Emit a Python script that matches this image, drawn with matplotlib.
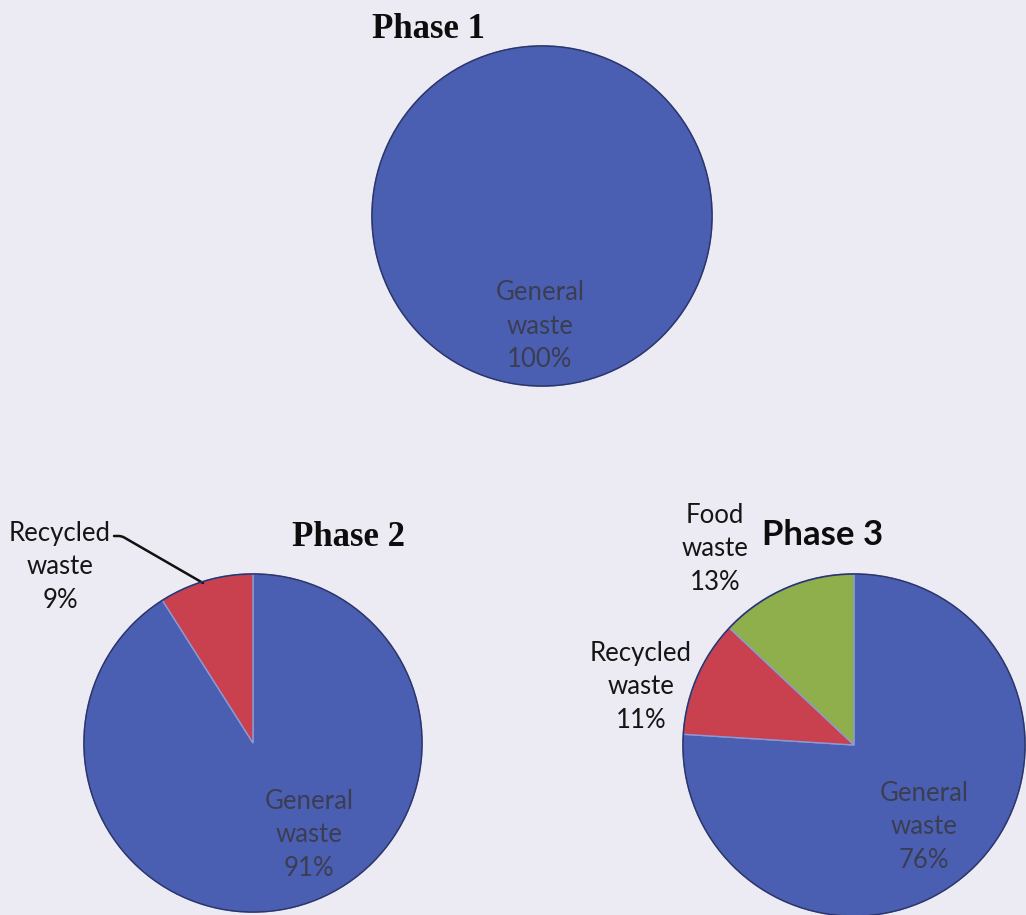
import matplotlib
matplotlib.use("Agg")
import matplotlib.pyplot as plt
from matplotlib.patches import Circle

# ---- data ----
phase_titles = ["Phase 1", "Phase 2", "Phase 3"]
categories = ["General waste", "Recycled waste", "Food waste"]
phase1_values = [100, 0, 0]
phase2_values = [91, 9, 0]
phase3_values = [76, 11, 13]

colors = ["#4b5fb2", "#c9404e", "#8fae4c"]
BG = "#eceaf2"

W, H = 1026, 915
fig = plt.figure(figsize=(W / 100, H / 100), dpi=100, facecolor=BG)
ax = fig.add_axes([0, 0, 1, 1])
ax.set_facecolor(BG)

def Y(y):  # convert top-based pixel to axis y
    return H - y

pies = [
    dict(values=phase1_values, center=(542, Y(216)), r=170),
    dict(values=phase2_values, center=(253, Y(743)), r=169),
    dict(values=phase3_values, center=(854, Y(745)), r=171),
]

for p in pies:
    vals = p["values"]
    cols = [c for c, v in zip(colors, vals) if v > 0]
    vals_nz = [v for v in vals if v > 0]
    ax.pie(vals_nz, colors=cols, startangle=90, counterclock=False,
           center=p["center"], radius=p["r"], frame=True,
           wedgeprops=dict(edgecolor="#8b9ad6", linewidth=1.0))
    ax.add_patch(Circle(p["center"], p["r"], fill=False,
                        edgecolor="#2b356e", linewidth=1.2, zorder=5))

ax.set_xlim(0, W)
ax.set_ylim(0, H)
ax.set_aspect("equal")
ax.axis("off")

serif = ["Liberation Serif", "DejaVu Serif"]
sans = ["Lato", "DejaVu Sans"]
inner_col = "#3b3d52"
outer_col = "#151515"
lfs = 18.5
ls = 1.42

def lab(name, v):
    n1, n2 = name.split(" ")
    return f"{n1}\n{n2}\n{v}%"

# titles
ax.text(428, Y(29), phase_titles[0], family=serif, weight="bold", fontsize=25,
        ha="center", va="center", color="#0d0d0d")
ax.text(349, Y(538), phase_titles[1], family=serif, weight="bold", fontsize=25,
        ha="center", va="center", color="#0d0d0d")
ax.text(823, Y(535), phase_titles[2], family=sans, weight="bold", fontsize=25,
        ha="center", va="center", color="#0d0d0d")

# phase 1 label
ax.text(540, Y(326), lab(categories[0], phase1_values[0]), family=sans,
        fontsize=lfs, ha="center", va="center", color=inner_col, linespacing=ls)

# phase 2 labels
ax.text(309, Y(835), lab(categories[0], phase2_values[0]), family=sans,
        fontsize=lfs, ha="center", va="center", color=inner_col, linespacing=ls)
ax.text(60, Y(567), lab(categories[1], phase2_values[1]), family=sans,
        fontsize=lfs, ha="center", va="center", color=outer_col, linespacing=ls)
ax.annotate("", xy=(203, Y(583)), xytext=(114, Y(536)),
            arrowprops=dict(arrowstyle="-", color="#111111", lw=1.8,
                            shrinkA=0, shrinkB=0,
                            connectionstyle="angle,angleA=0,angleB=-30,rad=3"))

# phase 3 labels
ax.text(924, Y(827), lab(categories[0], phase3_values[0]), family=sans,
        fontsize=lfs, ha="center", va="center", color=inner_col, linespacing=ls)
ax.text(641, Y(687), lab(categories[1], phase3_values[1]), family=sans,
        fontsize=lfs, ha="center", va="center", color=outer_col, linespacing=ls)
ax.text(715, Y(549), lab(categories[2], phase3_values[2]), family=sans,
        fontsize=lfs, ha="center", va="center", color=outer_col, linespacing=ls)

fig.savefig("out.png", dpi=100, facecolor=BG)
